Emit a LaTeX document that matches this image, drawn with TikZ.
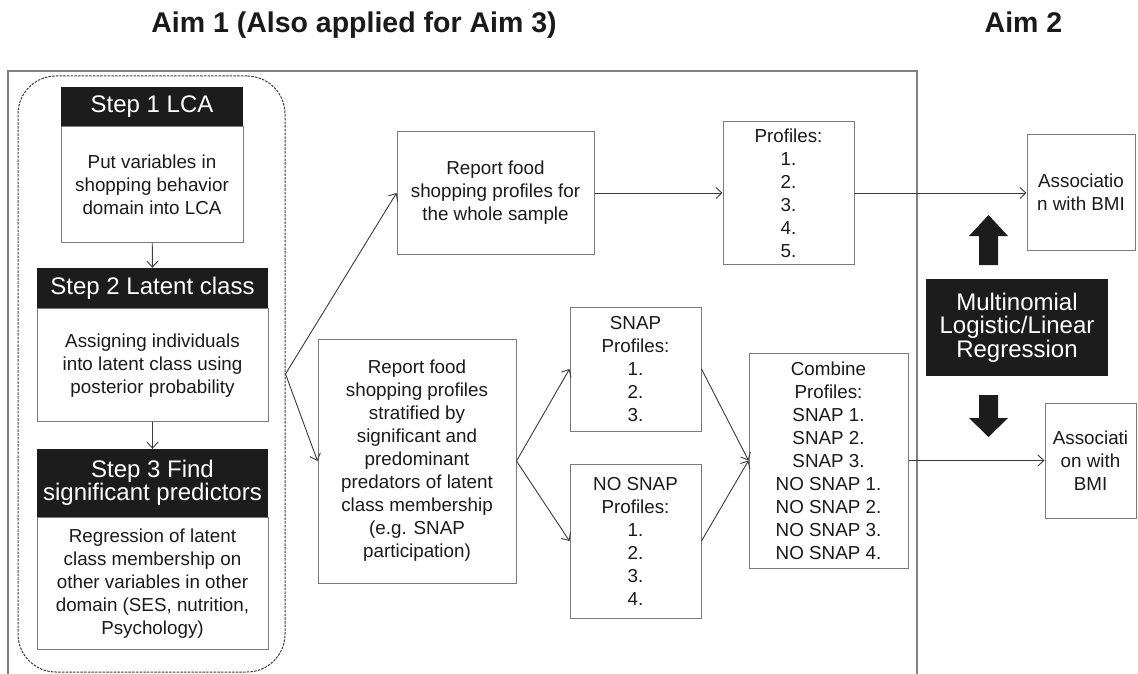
\documentclass[tikz,border=0pt]{standalone}
\usepackage{fontspec}
\setmainfont{Liberation Sans}
\usepackage{tikz}
\usetikzlibrary{arrows.meta,positioning}
\definecolor{ink}{HTML}{1A1A1A}
\definecolor{hdrfill}{HTML}{1C1C1C}
\definecolor{boxline}{HTML}{7A7A7A}
\definecolor{arrline}{HTML}{3A3A3A}
\definecolor{framegray}{HTML}{808080}
\newcommand{\bodyfont}{\fontsize{18.8}{23}\selectfont}
\newcommand{\hdrfont}{\fontsize{24}{23.5}\selectfont}
\newcommand{\aimfont}{\fontsize{28.5}{30}\selectfont\bfseries}
\tikzset{
  hdrbox/.style={rectangle,fill=hdrfill,text=white,align=center,font=\hdrfont,inner sep=1pt},
  stepbox/.style={rectangle,draw=boxline,line width=1pt,fill=white,text=ink,align=center,
    font=\bodyfont,inner sep=2pt},
  lcagroup/.style={rectangle,rounded corners=38pt,draw=arrline,line width=1pt,
    dash pattern=on 2.5pt off 1.2pt},
  flowarr/.style={-{Straight Barb[length=6pt,width=11pt]},line width=0.9pt,color=arrline},
  bigarr/.style={fill=hdrfill,draw=none},
}

\begin{document}
\begin{tikzpicture}[x=1pt,y=-1pt, node distance=0pt]
  \useasboundingbox (0,0) rectangle (1138,674);

  % headings
  \node[font=\aimfont,text=ink,anchor=base] (aim1) at (354,33) {Aim 1 (Also applied for Aim 3)};
  \node[font=\aimfont,text=ink,anchor=base] (aim2) at (1023.5,33) {Aim 2};

  % frame round Aim 1
  \draw[framegray,line width=2pt] (8,674) -- (8,71) -- (917,71) -- (917,674);

  % LCA steps
  \node[lcagroup,minimum width=267pt,minimum height=596pt] (lca) at (151.5,374) {};

  \node[hdrbox,minimum width=182pt,minimum height=39pt] (s1h) at (152,106.5) {Step 1 LCA};
  \node[stepbox,minimum width=182pt,minimum height=116pt,below=of s1h] (s1b)
    {Put variables in\\shopping behavior\\domain into LCA};

  \node[hdrbox,minimum width=231pt,minimum height=40pt] (s2h) at (152.5,288) {Step 2 Latent class};
  \node[stepbox,minimum width=231pt,minimum height=113pt,below=of s2h] (s2b)
    {Assigning individuals\\into latent class using\\posterior probability};

  \node[hdrbox,minimum width=231pt,minimum height=68pt] (s3h) at (152.5,483) {Step 3 Find\\significant predictors};
  \node[stepbox,minimum width=231pt,minimum height=132pt,below=of s3h] (s3b)
    {Regression of latent\\class membership on\\other variables in other\\domain (SES, nutrition,\\Psychology)};

  % reports and profiles
  \node[stepbox,minimum width=197pt,minimum height=122pt] (rwhole) at (495.5,193)
    {Report food\\shopping profiles for\\the whole sample};
  \node[stepbox,minimum width=198pt,minimum height=244pt] (rstrat) at (417,461)
    {Report food\\shopping profiles\\stratified by\\significant and\\predominant\\predators of latent\\class membership\\(e.g. SNAP\\participation)};
  \node[stepbox,minimum width=131pt,minimum height=124pt] (snap) at (635.5,369)
    {SNAP\\Profiles:\\1.\\2.\\3.};
  \node[stepbox,minimum width=131pt,minimum height=154pt] (nosnap) at (635.5,541)
    {NO SNAP\\Profiles:\\1.\\2.\\3.\\4.};
  \node[stepbox,minimum width=131pt,minimum height=142pt] (prof) at (788.5,193)
    {Profiles:\\1.\\2.\\3.\\4.\\5.};
  \node[stepbox,minimum width=159pt,minimum height=215pt] (comb) at (828.5,460.5)
    {Combine\\Profiles:\\SNAP 1.\\SNAP 2.\\SNAP 3.\\NO SNAP 1.\\NO SNAP 2.\\NO SNAP 3.\\NO SNAP 4.};

  % Aim 2
  \node[stepbox,minimum width=108pt,minimum height=115pt] (bmi1) at (1081,192.5)
    {Associatio\\n with BMI};
  \node[stepbox,minimum width=91pt,minimum height=115pt] (bmi2) at (1090.5,460.5)
    {Associati\\on with\\BMI};
  \node[hdrbox,minimum width=182pt,minimum height=97pt] (reg) at (1017,327.5)
    {Multinomial\\Logistic/Linear\\Regression};
  \fill[bigarr] (979,265) -- (979,236) -- (969,236) -- (988.5,215) -- (1008,236) -- (998,236) -- (998,265) -- cycle;
  \fill[bigarr] (979,395) -- (979,418) -- (969,418) -- (988.5,437) -- (1008,418) -- (998,418) -- (998,395) -- cycle;

  \draw[flowarr] (s1b) -- (s2h);
  \draw[flowarr] (s2b) -- (s3h);
  \draw[flowarr] (lca.east) -- (rwhole.west);
  \draw[flowarr] (lca.east) -- (rstrat.west);
  \draw[flowarr] (rwhole) -- (prof);
  \draw[flowarr] (prof.east) -- (bmi1.west |- prof.east);
  \draw[flowarr] (rstrat.east) -- (snap.west);
  \draw[flowarr] (rstrat.east) -- (nosnap.west);
  \draw[flowarr] (snap.east) -- (comb.west);
  \draw[flowarr] (nosnap.east) -- (comb.west);
  \draw[flowarr] (comb) -- (bmi2);
\end{tikzpicture}
\end{document}
